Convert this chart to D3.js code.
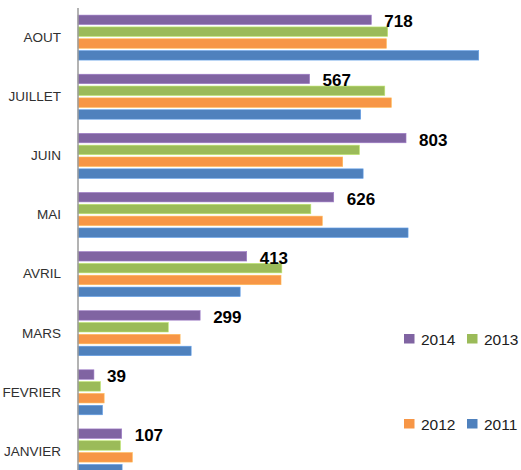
<!DOCTYPE html>
<html>
<head>
<meta charset="utf-8">
<script src="https://cdn.jsdelivr.net/npm/d3@7"></script>
<style>
html,body{margin:0;padding:0;background:#fff;}
svg{display:block;}
</style>
</head>
<body>
<script>
const categories = ["AOUT","JUILLET","JUIN","MAI","AVRIL","MARS","FEVRIER","JANVIER"];
const seriesNames = ["2014","2013","2012","2011"];
const values2014 = [718, 567, 803, 626, 413, 299, 39, 107];
const values2013 = [758, 751, 689, 570, 499, 221, 55, 104];
const values2012 = [755, 767, 648, 598, 497, 250, 64, 133];
const values2011 = [981, 692, 698, 808, 397, 277, 60, 108];
const colors = ["#8064A2","#9BBB59","#F79646","#4F81BD"];

const seriesValues = [values2014, values2013, values2012, values2011];
const W = 521, H = 470;
const svg = d3.select("body").append("svg").attr("width", W).attr("height", H);

const y = d3.scaleBand().domain(categories).range([8, 481]).paddingInner(0.239).paddingOuter(0.12);
const ySub = d3.scaleBand().domain(seriesNames).range([0, y.bandwidth()]).paddingInner(0.2);
const x = d3.scaleLinear().domain([0, 1000]).range([78, 486.5]);

const groups = svg.selectAll("g.cat").data(categories).enter().append("g")
  .attr("class","cat").attr("transform", d => `translate(0,${y(d)})`);

seriesNames.forEach((s, si) => {
  groups.append("rect")
    .attr("x", x(0))
    .attr("y", ySub(s))
    .attr("width", (d, i) => x(seriesValues[si][i]) - x(0))
    .attr("height", ySub.bandwidth())
    .attr("fill", colors[si])
    .attr("stroke", d3.color(colors[si]).brighter(0.6))
    .attr("stroke-width", 0.6);
});

// value labels for 2014
groups.append("text")
  .attr("x", (d, i) => x(values2014[i]) + 13)
  .attr("y", ySub("2014") + ySub.bandwidth()/2 + 7.5)
  .attr("font-family", "Liberation Sans, Arial, sans-serif")
  .attr("font-weight", "bold")
  .attr("font-size", 17)
  .attr("fill", "#000")
  .text((d, i) => values2014[i]);

// category axis
const axis = d3.axisLeft(y).tickSize(0).tickPadding(17);
const ag = svg.append("g").attr("transform", `translate(${x(0)},0)`).call(axis);
ag.select(".domain").attr("stroke", "#9a9a9a").attr("stroke-width", 1.5).attr("d", `M0,8V${H}`);
ag.selectAll("text")
  .attr("font-family", "Liberation Sans, Arial, sans-serif")
  .attr("font-size", 13.5)
  .attr("fill", "#303030");

// legend
const legendPos = [[404, 339],[467, 339],[404, 424],[467, 424]];
seriesNames.forEach((s, si) => {
  const g = svg.append("g").attr("transform", `translate(${legendPos[si][0]},${legendPos[si][1]})`);
  g.append("rect").attr("x", 0).attr("y", -5).attr("width", 10.5).attr("height", 9.5).attr("fill", colors[si]);
  g.append("text").attr("x", 17).attr("y", 5.5)
    .attr("font-family", "Liberation Sans, Arial, sans-serif")
    .attr("font-size", 15.5)
    .attr("fill", "#202020")
    .text(s);
});
</script>
</body>
</html>
